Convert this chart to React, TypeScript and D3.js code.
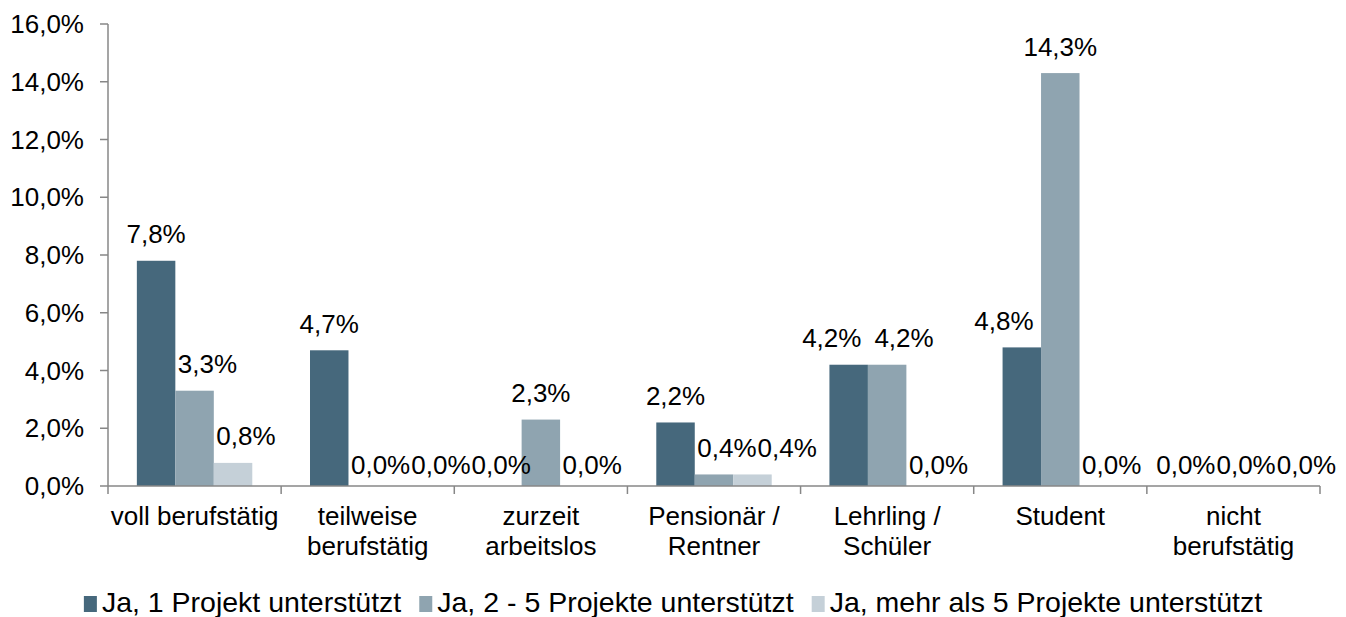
import React, { useMemo } from "react";
import * as d3 from "d3";

const categories = [
  "voll berufstätig",
  "teilweise berufstätig",
  "zurzeit arbeitslos",
  "Pensionär / Rentner",
  "Lehrling / Schüler",
  "Student",
  "nicht berufstätig",
];
const seriesNames = [
  "Ja, 1 Projekt unterstützt",
  "Ja, 2 - 5 Projekte unterstützt",
  "Ja, mehr als 5 Projekte unterstützt",
];
const series1 = [7.8, 4.7, 0.0, 2.2, 4.2, 4.8, 0.0];
const series2 = [3.3, 0.0, 2.3, 0.4, 4.2, 14.3, 0.0];
const series3 = [0.8, 0.0, 0.0, 0.4, 0.0, 0.0, 0.0];
const yTicks = [0, 2, 4, 6, 8, 10, 12, 14, 16];
const colors = ["#46687c", "#8fa4b0", "#c5d0d8"];

const W = 1346;
const H = 617;
const FONT = '"Liberation Sans", Arial, sans-serif';
const FS = 26;
const LEG_FS = 28.5;

let ctx: CanvasRenderingContext2D | null = null;
function measure(text: string, size: number) {
  if (!ctx) ctx = document.createElement("canvas").getContext("2d");
  ctx!.font = `${size}px ${FONT}`;
  return ctx!.measureText(text).width;
}

const fmt = (v: number) => d3.format(".1f")(v).replace(".", ",") + "%";

function wrap(text: string, maxW: number, size: number) {
  const words = text.split(" ");
  const lines: string[] = [];
  let cur = "";
  for (const w of words) {
    const t = cur ? cur + " " + w : w;
    if (measure(t, size) <= maxW || !cur) cur = t;
    else {
      lines.push(cur);
      cur = w;
    }
  }
  if (cur) lines.push(cur);
  return lines;
}

export default function App() {
  const allSeries = [series1, series2, series3];
  const x = d3.scaleBand<string>().domain(categories).range([108, 1320]).padding(0);
  const xs = d3
    .scaleBand<string>()
    .domain(["0", "1", "2"])
    .range([0, x.bandwidth()])
    .paddingInner(0)
    .paddingOuter(0.75);
  const y = d3.scaleLinear().domain([0, 16]).range([486, 24]);
  const y0 = y(0);

  const bars = useMemo(() => {
    const out: any[] = [];
    categories.forEach((c, i) => {
      allSeries.forEach((s, j) => {
        const v = s[i];
        const left = (x(c) as number) + (xs(String(j)) as number);
        out.push({ i, j, v, left, right: left + xs.bandwidth(), top: y(v), cx: left + xs.bandwidth() / 2 });
      });
    });
    return out;
  }, []);

  const labels = useMemo(() => {
    const labs = bars.map((b) => {
      const text = fmt(b.v);
      const w = measure(text, FS);
      const base = b.v === 0 ? y0 - 12 : b.top - 17.5;
      return { ...b, text, w, base, lx: b.cx - w / 2, locked: false };
    });
    const lh = 19;
    // avoid bars of the same category
    labs.forEach((l) => {
      bars
        .filter((b) => b.i === l.i && b.j !== l.j && b.top < l.base && b.v > 0)
        .forEach((b) => {
          if (l.lx < b.right && l.lx + l.w > b.left) {
            if (b.j < l.j) l.lx = b.right + 2.5;
            else l.lx = b.left - 7.5 - l.w;
            l.locked = true;
          }
        });
    });
    const vOverlap = (a: any, b: any) => Math.abs(a.base - b.base) < lh;
    const sorted = [...labs].sort((a, b) => a.lx - b.lx);
    sorted.forEach((l, k) => {
      for (let m = 0; m < k; m++) {
        const p = sorted[m];
        if (vOverlap(p, l) && l.lx < p.lx + p.w + 1 && l.lx + l.w > p.lx) {
          if (!p.locked && !l.locked && p.v > 0 && l.v > 0) {
            // spread both apart symmetrically
            const gap = 13;
            const need = p.lx + p.w + gap - l.lx;
            p.lx -= need / 2;
            l.lx += need / 2;
          } else {
            l.lx = p.lx + p.w + 1;
          }
          l.locked = true;
        }
      }
    });
    const limit = 1336;
    for (let k = sorted.length - 1; k >= 0; k--) {
      const l = sorted[k];
      if (l.lx + l.w > limit) l.lx = limit - l.w;
      for (let m = sorted.length - 1; m > k; m--) {
        const n = sorted[m];
        if (vOverlap(n, l) && l.lx + l.w + 1 > n.lx && l.lx < n.lx + n.w) l.lx = n.lx - 1 - l.w;
      }
    }
    return labs;
  }, [bars]);

  const legend = useMemo(() => {
    const sq = 13;
    const gap = 5;
    const itemGap = 18;
    const items = seriesNames.map((n, j) => ({ n, j, tw: measure(n, LEG_FS) }));
    const total = items.reduce((s, it) => s + sq + gap + it.tw, 0) + itemGap * (items.length - 1);
    let cx = W / 2 - total / 2;
    return items.map((it) => {
      const r = { ...it, x: cx };
      cx += sq + gap + it.tw + itemGap;
      return r;
    });
  }, []);

  const axisColor = "#878787";
  const boundaries = d3.range(categories.length + 1).map((k) => 108 + k * x.step());

  return (
    <svg width={W} height={H} style={{ position: "absolute", left: 0, top: 0, background: "#fff" }} fontFamily={FONT}>
      <rect width={W} height={H} fill="#fff" />
      {/* y axis */}
      <line x1={108} x2={108} y1={y(16)} y2={y0} stroke={axisColor} strokeWidth={1.5} />
      {yTicks.map((t) => (
        <g key={t}>
          <line x1={100} x2={108} y1={y(t)} y2={y(t)} stroke={axisColor} strokeWidth={1.5} />
          <text x={84} y={y(t) + 9} textAnchor="end" fontSize={FS} fill="#000">
            {fmt(t)}
          </text>
        </g>
      ))}
      {/* bars */}
      {bars.map((b) => (
        <rect key={`${b.i}-${b.j}`} x={b.left} y={b.top} width={b.right - b.left} height={y0 - b.top} fill={colors[b.j]} />
      ))}
      {/* x axis */}
      <line x1={108} x2={1320} y1={y0} y2={y0} stroke={axisColor} strokeWidth={1.5} />
      {boundaries.map((bx, k) => (
        <line key={k} x1={bx} x2={bx} y1={y0} y2={y0 + 8} stroke={axisColor} strokeWidth={1.5} />
      ))}
      {categories.map((c) => {
        const lines = wrap(c, x.bandwidth(), FS);
        const cx = (x(c) as number) + x.bandwidth() / 2;
        return (
          <text key={c} x={cx} y={525} textAnchor="middle" fontSize={FS} fill="#000">
            {lines.map((ln, k) => (
              <tspan key={k} x={cx} dy={k === 0 ? 0 : 30}>
                {ln}
              </tspan>
            ))}
          </text>
        );
      })}
      {/* data labels */}
      {labels.map((l) => (
        <text key={`l${l.i}-${l.j}`} x={l.lx} y={l.base} fontSize={FS} fill="#000">
          {l.text}
        </text>
      ))}
      {/* legend */}
      {legend.map((it) => (
        <g key={it.j}>
          <rect x={it.x} y={596} width={13} height={16} fill={colors[it.j]} />
          <text x={it.x + 18} y={612} fontSize={LEG_FS} fill="#000">
            {it.n}
          </text>
        </g>
      ))}
    </svg>
  );
}
